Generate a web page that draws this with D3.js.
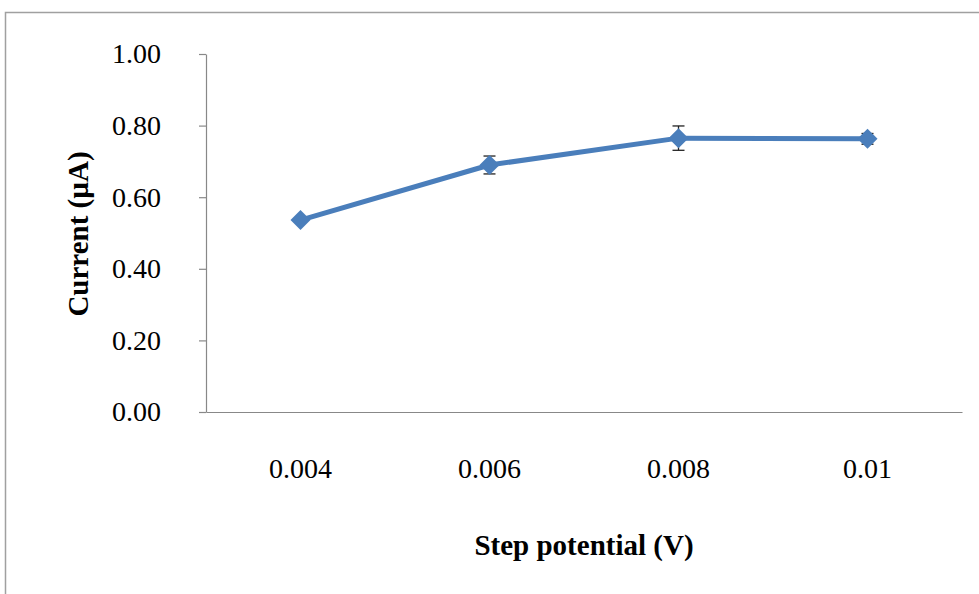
<!DOCTYPE html>
<html>
<head>
<meta charset="utf-8">
<script src="https://cdn.jsdelivr.net/npm/d3@7"></script>
<style>
  html, body { margin: 0; padding: 0; background: #fff; }
  svg text { font-family: "Liberation Serif", "Times New Roman", "DejaVu Serif", serif; }
</style>
</head>
<body>
<svg id="chart" width="979" height="594"></svg>
<script>
// data
const stepPotentials = ["0.004", "0.006", "0.008", "0.01"];
const currents = [0.536, 0.690, 0.765, 0.763];
const errors = [0.005, 0.025, 0.034, 0.015];
const yTicks = [0, 0.2, 0.4, 0.6, 0.8, 1.0];

const WIDTH = 979, HEIGHT = 594;
const margin = { top: 54, right: 17, bottom: 182, left: 206 };
const innerWidth = WIDTH - margin.left - margin.right;
const innerHeight = HEIGHT - margin.top - margin.bottom;
const FONT = "'Liberation Serif', 'Times New Roman', 'DejaVu Serif', serif";

const svg = d3.select("#chart");

// outer frame (only top + left edges show)
svg.append("path")
    .attr("d", `M5.5 594 L5.5 12.5 L979 12.5`)
    .attr("fill", "none")
    .attr("stroke", "#a0a0a0")
    .attr("stroke-width", 1.5);

const g = svg.append("g")
    .attr("transform", `translate(${margin.left},${margin.top})`);

const points = stepPotentials.map((s, i) => ({ s, v: currents[i], e: errors[i] }));

// Scales
const x = d3.scaleBand()
    .domain(stepPotentials)
    .range([0, innerWidth]);

const y = d3.scaleLinear()
    .domain([0, 1])
    .range([innerHeight, 0]);

const cx = d => x(d.s) + x.bandwidth() / 2;

// Axes
const yAxis = g.append("g")
    .call(d3.axisLeft(y)
        .tickValues(yTicks)
        .tickFormat(d3.format(".2f"))
        .tickSize(7)
        .tickPadding(38)
        .tickSizeOuter(0));

const xAxis = g.append("g")
    .attr("transform", `translate(0,${innerHeight})`)
    .call(d3.axisBottom(x).tickSize(0).tickSizeOuter(0).tickPadding(46));

[yAxis, xAxis].forEach(ax => {
    ax.attr("font-family", FONT).attr("font-size", 28);
    ax.select(".domain").attr("stroke", "#888").attr("stroke-width", 1.2);
    ax.selectAll(".tick line").attr("stroke", "#888").attr("stroke-width", 1.2);
    ax.selectAll(".tick text")
        .attr("fill", "#000")
        .style("font-family", FONT)
        .style("font-size", "28px");
});

// Error bars (behind markers)
const eb = g.selectAll(".err")
    .data(points)
    .enter()
    .append("g")
    .attr("class", "err")
    .attr("stroke", "#222")
    .attr("stroke-width", 1.3);

eb.append("line")
    .attr("x1", cx).attr("x2", cx)
    .attr("y1", d => y(d.v + d.e))
    .attr("y2", d => y(d.v - d.e));

eb.append("line")
    .attr("x1", d => cx(d) - 6).attr("x2", d => cx(d) + 6)
    .attr("y1", d => y(d.v + d.e)).attr("y2", d => y(d.v + d.e));

eb.append("line")
    .attr("x1", d => cx(d) - 6).attr("x2", d => cx(d) + 6)
    .attr("y1", d => y(d.v - d.e)).attr("y2", d => y(d.v - d.e));

// Line
const line = d3.line()
    .x(cx)
    .y(d => y(d.v));

g.append("path")
    .datum(points)
    .attr("fill", "none")
    .attr("stroke", "#4a7ebb")
    .attr("stroke-width", 5)
    .attr("stroke-linejoin", "round")
    .attr("d", line);

// Diamond markers
const diamond = d3.symbol().type(d3.symbolSquare).size(200);

g.selectAll(".marker")
    .data(points)
    .enter()
    .append("path")
    .attr("class", "marker")
    .attr("d", diamond)
    .attr("transform", d => `translate(${cx(d)},${y(d.v)}) rotate(45)`)
    .attr("fill", "#4a7ebb");

// Axis titles
svg.append("text")
    .attr("x", 584)
    .attr("y", 555)
    .attr("text-anchor", "middle")
    .style("font-family", FONT)
    .style("font-size", "29px")
    .style("font-weight", "bold")
    .text("Step potential (V)");

svg.append("text")
    .attr("transform", `translate(88,234) rotate(-90)`)
    .attr("text-anchor", "middle")
    .style("font-family", FONT)
    .style("font-size", "29px")
    .style("font-weight", "bold")
    .text("Current (µA)");
</script>
</body>
</html>
